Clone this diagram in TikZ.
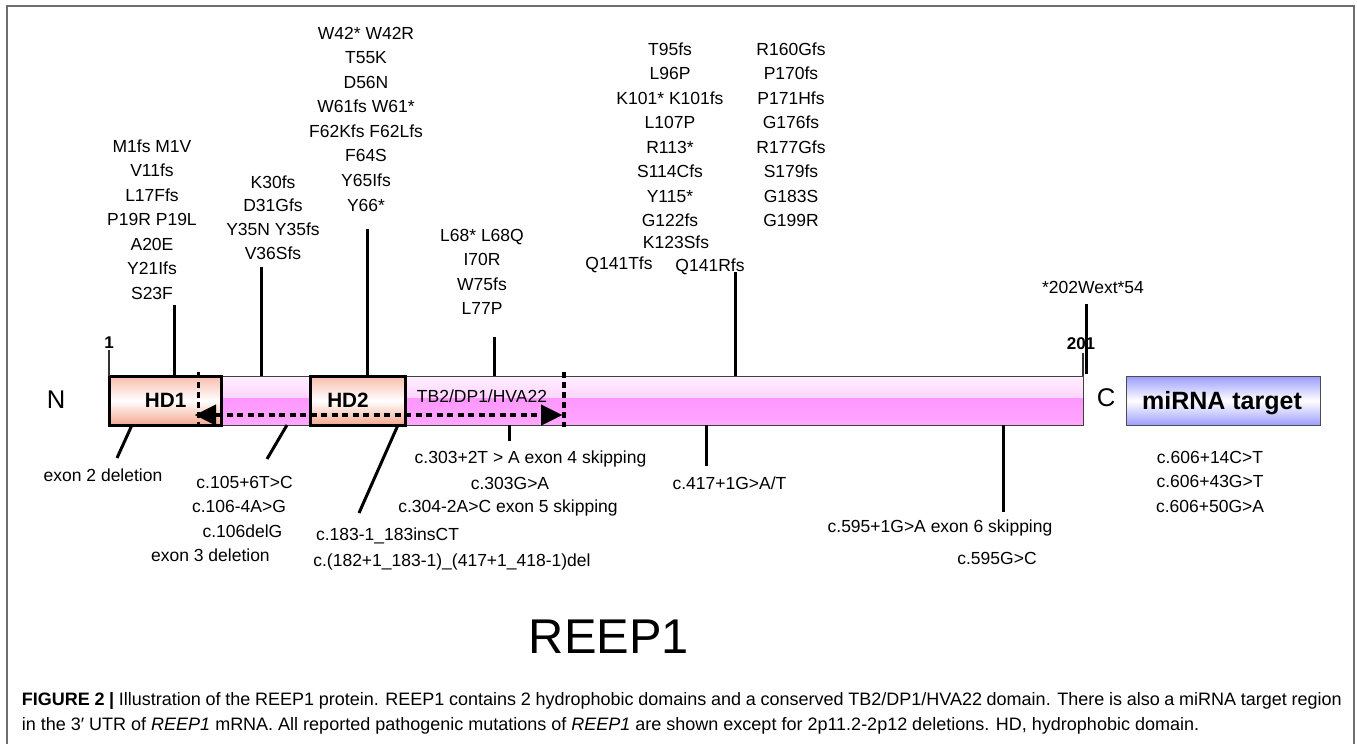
\documentclass[tikz,border=0pt]{standalone}
\usepackage{fontspec}
\setmainfont{Liberation Sans}
\usetikzlibrary{arrows.meta}
\definecolor{hdsal}{HTML}{F4A78F}
\definecolor{hdtop}{HTML}{F8BCAC}
\definecolor{barlt}{HTML}{FFF0FF}
\definecolor{barlt2}{HTML}{FFD4FF}
\definecolor{barpk}{HTML}{FF96FF}
\definecolor{barpk2}{HTML}{FFA8FF}
\definecolor{mirna}{HTML}{9C9CFF}
\definecolor{framegray}{HTML}{6E6E6E}
\tikzset{
  mut/.style={font=\fontsize{17.5}{24.5}\selectfont, align=center, inner sep=0pt, anchor=north},
  lab/.style={font=\fontsize{17.5}{21}\selectfont, inner sep=0pt, anchor=base},
  tick/.style={line width=3pt},
  thintick/.style={line width=1.2pt, draw=black!80},
  domainbox/.style={draw=black, line width=3pt, top color=hdtop, bottom color=hdsal, middle color=white, inner sep=0pt, outer sep=0pt},
  barbox/.style={draw=black!75, line width=1pt, inner sep=0pt, outer sep=0pt},
  mirbox/.style={draw=black!70, line width=1.5pt, top color=mirna, bottom color=mirna, middle color=white, inner sep=0pt, outer sep=0pt},
  dotv/.style={line width=3.5pt, dash pattern=on 6pt off 4pt},
  tbarrow/.style={line width=3.5pt, dash pattern=on 6pt off 4.5pt,
    arrows={Triangle[length=21pt,width=21pt,line width=0.01pt]-Triangle[length=21pt,width=21pt,line width=0.01pt]}},
  framestyle/.style={draw=framegray, line width=2pt},
  capstyle/.style={font=\fontsize{18}{25}\selectfont, inner sep=0pt, anchor=base west},
}
\begin{document}
\begin{tikzpicture}[x=1pt,y=-1pt]
\useasboundingbox (0,0) rectangle (1357,744);
% frame
\draw[framestyle] (7,750) -- (7,6) -- (1354,6) -- (1354,750);

% protein bar
\fill[top color=barlt, bottom color=barlt2] (108,376) rectangle (1083,398);
\fill[top color=barpk, bottom color=barpk2] (108,398) rectangle (1083,425);
\node[barbox, minimum width=975pt, minimum height=49pt] (bar) at (595.5,400.5) {};

% domains
\node[domainbox, minimum width=112pt, minimum height=49pt] (hd1) at (165.7,400.5) {};
\node[domainbox, minimum width=95pt, minimum height=49pt] (hd2) at (358,400.5) {};
\node[font=\fontsize{20.7}{24}\selectfont\bfseries, inner sep=0pt, anchor=base] (hd1t) at (165.7,407.4) {HD1};
\node[font=\fontsize{20.7}{24}\selectfont\bfseries, inner sep=0pt, anchor=base] (hd2t) at (348,407.4) {HD2};
\node[lab] (tbt) at (482,402) {TB2/DP1/HVA22};

% TB2 domain extent
\draw[dotv] (198.6,372) -- (198.6,427);
\draw[dotv] (564,372) -- (564,427);
\coordinate (arrL) at (195,415);
\coordinate (arrR) at (562,415);
\draw[tbarrow] (arrL) -- (arrR);

% miRNA box
\node[mirbox, minimum width=194pt, minimum height=49pt] (mir) at (1223.4,400.8) {};
\node[font=\fontsize{25}{30}\selectfont\bfseries, inner sep=0pt, anchor=base] (mirt) at (1222,409) {miRNA target};

% end labels
\node[font=\fontsize{25.6}{30}\selectfont, inner sep=0pt, anchor=base] (nlab) at (56,408) {N};
\node[font=\fontsize{25.6}{30}\selectfont, inner sep=0pt, anchor=base] (clab) at (1106,406) {C};
\node[font=\fontsize{17}{20}\selectfont\bfseries, inner sep=0pt, anchor=base] (one) at (109,348.5) {1};
\node[font=\fontsize{17}{20}\selectfont\bfseries, inner sep=0pt, anchor=base] (two01) at (1081,349) {201};
\coordinate (oneb) at (109,350);
\coordinate (twob) at (1083,353);
\draw[thintick] (oneb) -- (oneb |- bar.north);
\draw[thintick] (twob) -- (twob |- bar.north);

% mutation labels above
\node[mut] (m1) at (152,139.6) {M1fs M1V\\V11fs\\L17Ffs\\P19R P19L\\A20E\\Y21Ifs\\S23F};
\node[mut, font=\fontsize{17.5}{23.8}\selectfont] (k30) at (273,175.3) {K30fs\\D31Gfs\\Y35N Y35fs\\V36Sfs};
\node[mut, font=\fontsize{17.5}{24.57}\selectfont] (w42) at (366,26.6) {W42* W42R\\T55K\\D56N\\W61fs W61*\\F62Kfs F62Lfs\\F64S\\Y65Ifs\\Y66*};
\node[mut] (l68) at (482,228.6) {L68* L68Q\\I70R\\W75fs\\L77P};
\node[mut, font=\fontsize{17.5}{24.43}\selectfont] (t95) at (670,42.6) {T95fs\\L96P\\K101* K101fs\\L107P\\R113*\\S114Cfs\\Y115*\\G122fs};
\node[lab] (k123) at (676,248.3) {K123Sfs};
\node[lab] (q141t) at (619,269.6) {Q141Tfs};
\node[lab] (q141r) at (710,271.3) {Q141Rfs};
\node[mut, font=\fontsize{17.5}{24.43}\selectfont] (r160) at (791,42.6) {R160Gfs\\P170fs\\P171Hfs\\G176fs\\R177Gfs\\S179fs\\G183S\\G199R};
\node[lab] (w202) at (1093,293.3) {*202Wext*54};

% ticks above
\coordinate (t1) at (174,305);
\coordinate (t2) at (261,267);
\coordinate (t3) at (367.7,229);
\coordinate (t4) at (494,337);
\coordinate (t5) at (735,272);
\coordinate (t6) at (1086,304);
\coordinate (t6b) at (1086,374);
\draw[tick] (t1) -- (t1 |- bar.north);
\draw[tick] (t2) -- (t2 |- bar.north);
\draw[tick] (t3) -- (t3 |- bar.north);
\draw[tick] (t4) -- (t4 |- bar.north);
\draw[tick] (t5) -- (t5 |- bar.north);
\draw[tick] (t6) -- (t6b);

% labels below
\node[lab] (ex2) at (103,481.9) {exon 2 deletion};
\node[lab] (c105) at (244.6,488) {c.105+6T>C};
\node[lab] (c106a) at (239,512.7) {c.106-4A>G};
\node[lab] (c106d) at (242.4,537.3) {c.106delG};
\node[lab] (ex3) at (210.4,561.6) {exon 3 deletion};
\node[lab] (c183) at (387.5,540.3) {c.183-1\_183insCT};
\node[lab] (c182) at (452,566.8) {c.(182+1\_183-1)\_(417+1\_418-1)del};
\node[lab] (c303a) at (530.5,463.3) {c.303+2T > A exon 4 skipping};
\node[lab] (c303g) at (510,489) {c.303G>A};
\node[lab] (c304) at (508,512.6) {c.304-2A>C exon 5 skipping};
\node[lab] (c417) at (729.5,489.3) {c.417+1G>A/T};
\node[lab] (c595a) at (940,532) {c.595+1G>A exon 6 skipping};
\node[lab] (c595g) at (997,564.3) {c.595G>C};
\node[mut, font=\fontsize{17.5}{24.8}\selectfont] (c606) at (1210,450.6) {c.606+14C>T\\c.606+43G>T\\c.606+50G>A};

% ticks below
\coordinate (b1a) at (132,425); \coordinate (b1b) at (117,458);
\coordinate (b2a) at (287,425); \coordinate (b2b) at (267,459);
\coordinate (b3a) at (398,425); \coordinate (b3b) at (359,513);
\coordinate (b4a) at (509,425); \coordinate (b4b) at (509,441);
\coordinate (b5a) at (706,425); \coordinate (b5b) at (706,466);
\coordinate (b6a) at (1003,425); \coordinate (b6b) at (1003,512);
\draw[tick] (b1a) -- (b1b);
\draw[tick] (b2a) -- (b2b);
\draw[tick] (b3a) -- (b3b);
\draw[tick] (b4a) -- (b4b);
\draw[tick] (b5a) -- (b5b);
\draw[tick] (b6a) -- (b6b);

% title
\node[font=\fontsize{48.8}{56}\selectfont, inner sep=0pt, anchor=base] (title) at (609,653.5) {REEP1};

% caption
\node[capstyle] (cap1) at (21.6,705)
  {\makebox[1320pt][s]{\textbf{FIGURE 2 |} Illustration of the REEP1 protein. REEP1 contains 2 hydrophobic domains and a conserved TB2/DP1/HVA22 domain. There is also a miRNA target region}};
\node[capstyle] (cap2) at (21.6,730)
  {in the 3′ UTR of \textit{REEP1} mRNA. All reported pathogenic mutations of \textit{REEP1} are shown except for 2p11.2-2p12 deletions. HD, hydrophobic domain.};
\end{tikzpicture}
\end{document}
